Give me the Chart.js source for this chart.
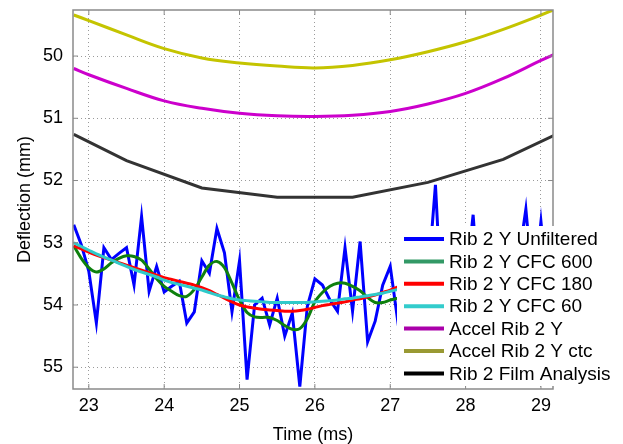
<!DOCTYPE html>
<html>
<head>
<meta charset="utf-8">
<script src="https://cdn.jsdelivr.net/npm/chart.js@4"></script>
<style>
  html, body { margin: 0; padding: 0; background: #fff; }
  #wrap { width: 623px; height: 444px; }
</style>
</head>
<body>
<div id="wrap"><canvas id="ribChart" width="623" height="444"></canvas></div>
<script>
// ===========================
// DATA
// ===========================
const rawTimes = [22.8, 22.9, 23.0, 23.1, 23.2, 23.3, 23.4, 23.5, 23.6, 23.7, 23.8, 23.9,
  24.0, 24.1, 24.2, 24.3, 24.4, 24.5, 24.6, 24.7, 24.8, 24.9, 25.0, 25.1, 25.2, 25.3,
  25.4, 25.5, 25.6, 25.7, 25.8, 25.9, 26.0, 26.1, 26.2, 26.3, 26.4, 26.5, 26.6, 26.7,
  26.8, 26.9, 27.0, 27.1, 27.2, 27.3, 27.4, 27.5, 27.6, 27.7, 27.8, 27.9, 28.0, 28.1,
  28.2, 28.3, 28.4, 28.5, 28.6, 28.7, 28.8, 28.9, 29.0, 29.1];
const unfiltered = [52.71, 53.03, 53.46, 54.29, 53.08, 53.27, 53.17, 53.08, 53.68, 52.58, 53.78, 53.38,
  53.79, 53.70, 53.62, 54.29, 54.11, 53.29, 53.49, 52.77, 53.16, 54.11, 53.29, 55.20, 54.00, 53.89,
  54.32, 53.89, 54.50, 54.13, 55.31, 54.02, 53.58, 53.68, 53.92, 54.10, 53.08, 54.10, 52.98, 54.59,
  54.26, 53.68, 53.38, 54.26, 53.90, 53.40, 54.30, 53.60, 52.07, 54.40, 53.50, 54.00, 53.70, 52.55,
  54.20, 53.60, 54.50, 53.50, 53.90, 53.30, 52.46, 53.80, 52.66, 53.90];

const filtTimes = [22.8, 22.9, 23.0, 23.1, 23.2, 23.3, 23.4, 23.5, 23.6, 23.7, 23.8, 23.9,
  24.0, 24.1, 24.2, 24.3, 24.4, 24.5, 24.6, 24.7, 24.8, 24.9, 25.0, 25.1, 25.2, 25.3,
  25.4, 25.5, 25.6, 25.7, 25.8, 25.9, 26.0, 26.1, 26.2, 26.3, 26.4, 26.5, 26.6, 26.7,
  26.8, 26.9, 27.0, 27.1];
const cfc600 = [53.05, 53.25, 53.40, 53.47, 53.42, 53.32, 53.25, 53.21, 53.22, 53.28, 53.42, 53.58,
  53.70, 53.78, 53.85, 53.86, 53.75, 53.55, 53.36, 53.30, 53.40, 53.65, 53.92, 54.12, 54.19, 54.20,
  54.20, 54.25, 54.33, 54.39, 54.38, 54.22, 53.95, 53.80, 53.70, 53.65, 53.65, 53.70, 53.77, 53.88,
  53.96, 53.96, 53.92, 53.89];
const cfc180 = [53.05, 53.10, 53.15, 53.20, 53.24, 53.28, 53.32, 53.36, 53.40, 53.44, 53.48, 53.52,
  53.56, 53.59, 53.62, 53.65, 53.68, 53.72, 53.77, 53.83, 53.89, 53.95, 54.00, 54.03, 54.05, 54.07,
  54.08, 54.09, 54.10, 54.10, 54.09, 54.07, 54.04, 54.01, 53.99, 53.97, 53.95, 53.92, 53.90, 53.87,
  53.84, 53.80, 53.76, 53.71];
const cfc60 = [53.00, 53.06, 53.12, 53.18, 53.23, 53.28, 53.33, 53.38, 53.43, 53.47, 53.51, 53.55,
  53.60, 53.64, 53.67, 53.70, 53.73, 53.76, 53.80, 53.84, 53.87, 53.90, 53.92, 53.93, 53.94, 53.95,
  53.96, 53.96, 53.96, 53.96, 53.96, 53.96, 53.95, 53.94, 53.93, 53.92, 53.90, 53.89, 53.87, 53.85,
  53.83, 53.81, 53.78, 53.75];

const accelTimes = [22.8, 23.0, 23.5, 24.0, 24.5, 25.0, 25.5, 26.0, 26.5, 27.0, 27.5, 28.0, 28.5, 29.0, 29.2];
const accelRib = [50.20, 50.30, 50.52, 50.72, 50.84, 50.92, 50.96, 50.97, 50.95, 50.89, 50.77, 50.60, 50.36, 50.07, 49.96];
const accelCtc = [49.34, 49.43, 49.66, 49.88, 50.03, 50.11, 50.16, 50.19, 50.15, 50.06, 49.93, 49.77, 49.57, 49.34, 49.24];

const filmTimes = [22.8, 23.5, 24.5, 25.5, 26.5, 27.5, 28.5, 29.2];
const filmAnalysis = [51.26, 51.68, 52.12, 52.27, 52.27, 52.03, 51.66, 51.26];

const seriesNames = ['Rib 2 Y Unfiltered', 'Rib 2 Y CFC 600', 'Rib 2 Y CFC 180', 'Rib 2 Y CFC 60',
  'Accel Rib 2 Y', 'Accel Rib 2 Y ctc', 'Rib 2 Film Analysis'];
const xTicks = [23, 24, 25, 26, 27, 28, 29];
const yTicks = [50, 51, 52, 53, 54, 55];

// ===========================
// HELPERS / STYLE
// ===========================
const FONT = '"Liberation Sans", Arial, sans-serif';
const pts = (xs, ys) => xs.map((x, i) => ({ x: x, y: ys[i] }));

function series(name, xs, ys, line, legend, order, tension) {
  return {
    label: name,
    data: pts(xs, ys),
    borderColor: line,
    legendColor: legend,
    borderWidth: 3,
    pointRadius: 0,
    tension: tension,
    order: order,
    fill: false
  };
}

// frame + inward tick marks like the original plot
const framePlugin = {
  id: 'frame',
  afterDatasetsDraw(chart) {
    const { ctx, chartArea: a, scales } = chart;
    ctx.save();
    ctx.strokeStyle = '#8a8a8a';
    ctx.lineWidth = 1.5;
    ctx.strokeRect(a.left, a.top, a.right - a.left, a.bottom - a.top);
    ctx.lineWidth = 1;
    ctx.beginPath();
    xTicks.forEach(v => {
      const px = scales.x.getPixelForValue(v);
      ctx.moveTo(px, a.bottom); ctx.lineTo(px, a.bottom - 5);
      ctx.moveTo(px, a.top); ctx.lineTo(px, a.top + 5);
    });
    yTicks.forEach(v => {
      const py = scales.y.getPixelForValue(v);
      ctx.moveTo(a.left, py); ctx.lineTo(a.left + 5, py);
      ctx.moveTo(a.right, py); ctx.lineTo(a.right - 5, py);
    });
    ctx.stroke();
    ctx.restore();
  }
};

// legend box sitting over the lower right of the plot
const legendPlugin = {
  id: 'boxLegend',
  afterDraw(chart) {
    const { ctx } = chart;
    const x0 = 397, y0 = 226, rowH = 22.4;
    ctx.save();
    ctx.fillStyle = '#fff';
    ctx.fillRect(x0, y0, 222, 160);
    ctx.font = '19px ' + FONT;
    ctx.textBaseline = 'middle';
    ctx.textAlign = 'left';
    chart.data.datasets.forEach((ds, i) => {
      const y = 239 + i * rowH;
      ctx.strokeStyle = ds.legendColor;
      ctx.lineWidth = 4;
      ctx.beginPath();
      ctx.moveTo(404, y);
      ctx.lineTo(444, y);
      ctx.stroke();
      ctx.fillStyle = '#000';
      ctx.fillText(ds.label, 449, y + 1);
    });
    ctx.restore();
  }
};

// ===========================
// CHART
// ===========================
const ctx = document.getElementById('ribChart').getContext('2d');
new Chart(ctx, {
  type: 'line',
  data: {
    datasets: [
      series(seriesNames[0], rawTimes, unfiltered, '#0000ff', '#0000ff', 4, 0),
      series(seriesNames[1], filtTimes, cfc600, '#0e800e', '#339966', 3, 0.3),
      series(seriesNames[2], filtTimes, cfc180, '#ff0000', '#ff0000', 2, 0.3),
      series(seriesNames[3], filtTimes, cfc60, '#2fcaca', '#33cccc', 1, 0.3),
      series(seriesNames[4], accelTimes, accelRib, '#cc00cc', '#aa00aa', 5, 0.4),
      series(seriesNames[5], accelTimes, accelCtc, '#c4c400', '#999933', 6, 0.4),
      series(seriesNames[6], filmTimes, filmAnalysis, '#333333', '#000000', 7, 0)
    ]
  },
  options: {
    responsive: false,
    animation: false,
    events: [],
    layout: { padding: { top: 10, right: 70, left: 0, bottom: 0 } },
    plugins: { legend: { display: false }, tooltip: { enabled: false } },
    scales: {
      x: {
        type: 'linear',
        min: 22.79,
        max: 29.16,
        afterFit: s => { s.height = 55; s.paddingLeft = 0; s.paddingRight = 0; },
        afterBuildTicks: s => { s.ticks = xTicks.map(v => ({ value: v })); },
        grid: { color: '#9a9a9a', lineWidth: 1, drawTicks: false },
        border: { display: false, dash: [1, 3] },
        ticks: { color: '#000', font: { family: FONT, size: 18 }, padding: 6, maxRotation: 0 },
        title: { display: true, text: 'Time (ms)', color: '#000',
          font: { family: FONT, size: 18, lineHeight: 1 }, padding: { top: 0, bottom: 0 } }
      },
      y: {
        type: 'linear',
        reverse: true,
        min: 49.26,
        max: 55.35,
        afterFit: s => { s.width = 73; s.paddingTop = 0; s.paddingBottom = 0; },
        afterBuildTicks: s => { s.ticks = yTicks.map(v => ({ value: v })); },
        grid: { color: '#9a9a9a', lineWidth: 1, drawTicks: false },
        border: { display: false, dash: [1, 3] },
        ticks: { color: '#000', font: { family: FONT, size: 18 }, padding: 10 },
        title: { display: true, text: 'Deflection (mm)', color: '#000',
          font: { family: FONT, size: 18, lineHeight: 1.2 }, padding: { top: 14, bottom: 0 } }
      }
    }
  },
  plugins: [framePlugin, legendPlugin]
});
</script>
</body>
</html>
